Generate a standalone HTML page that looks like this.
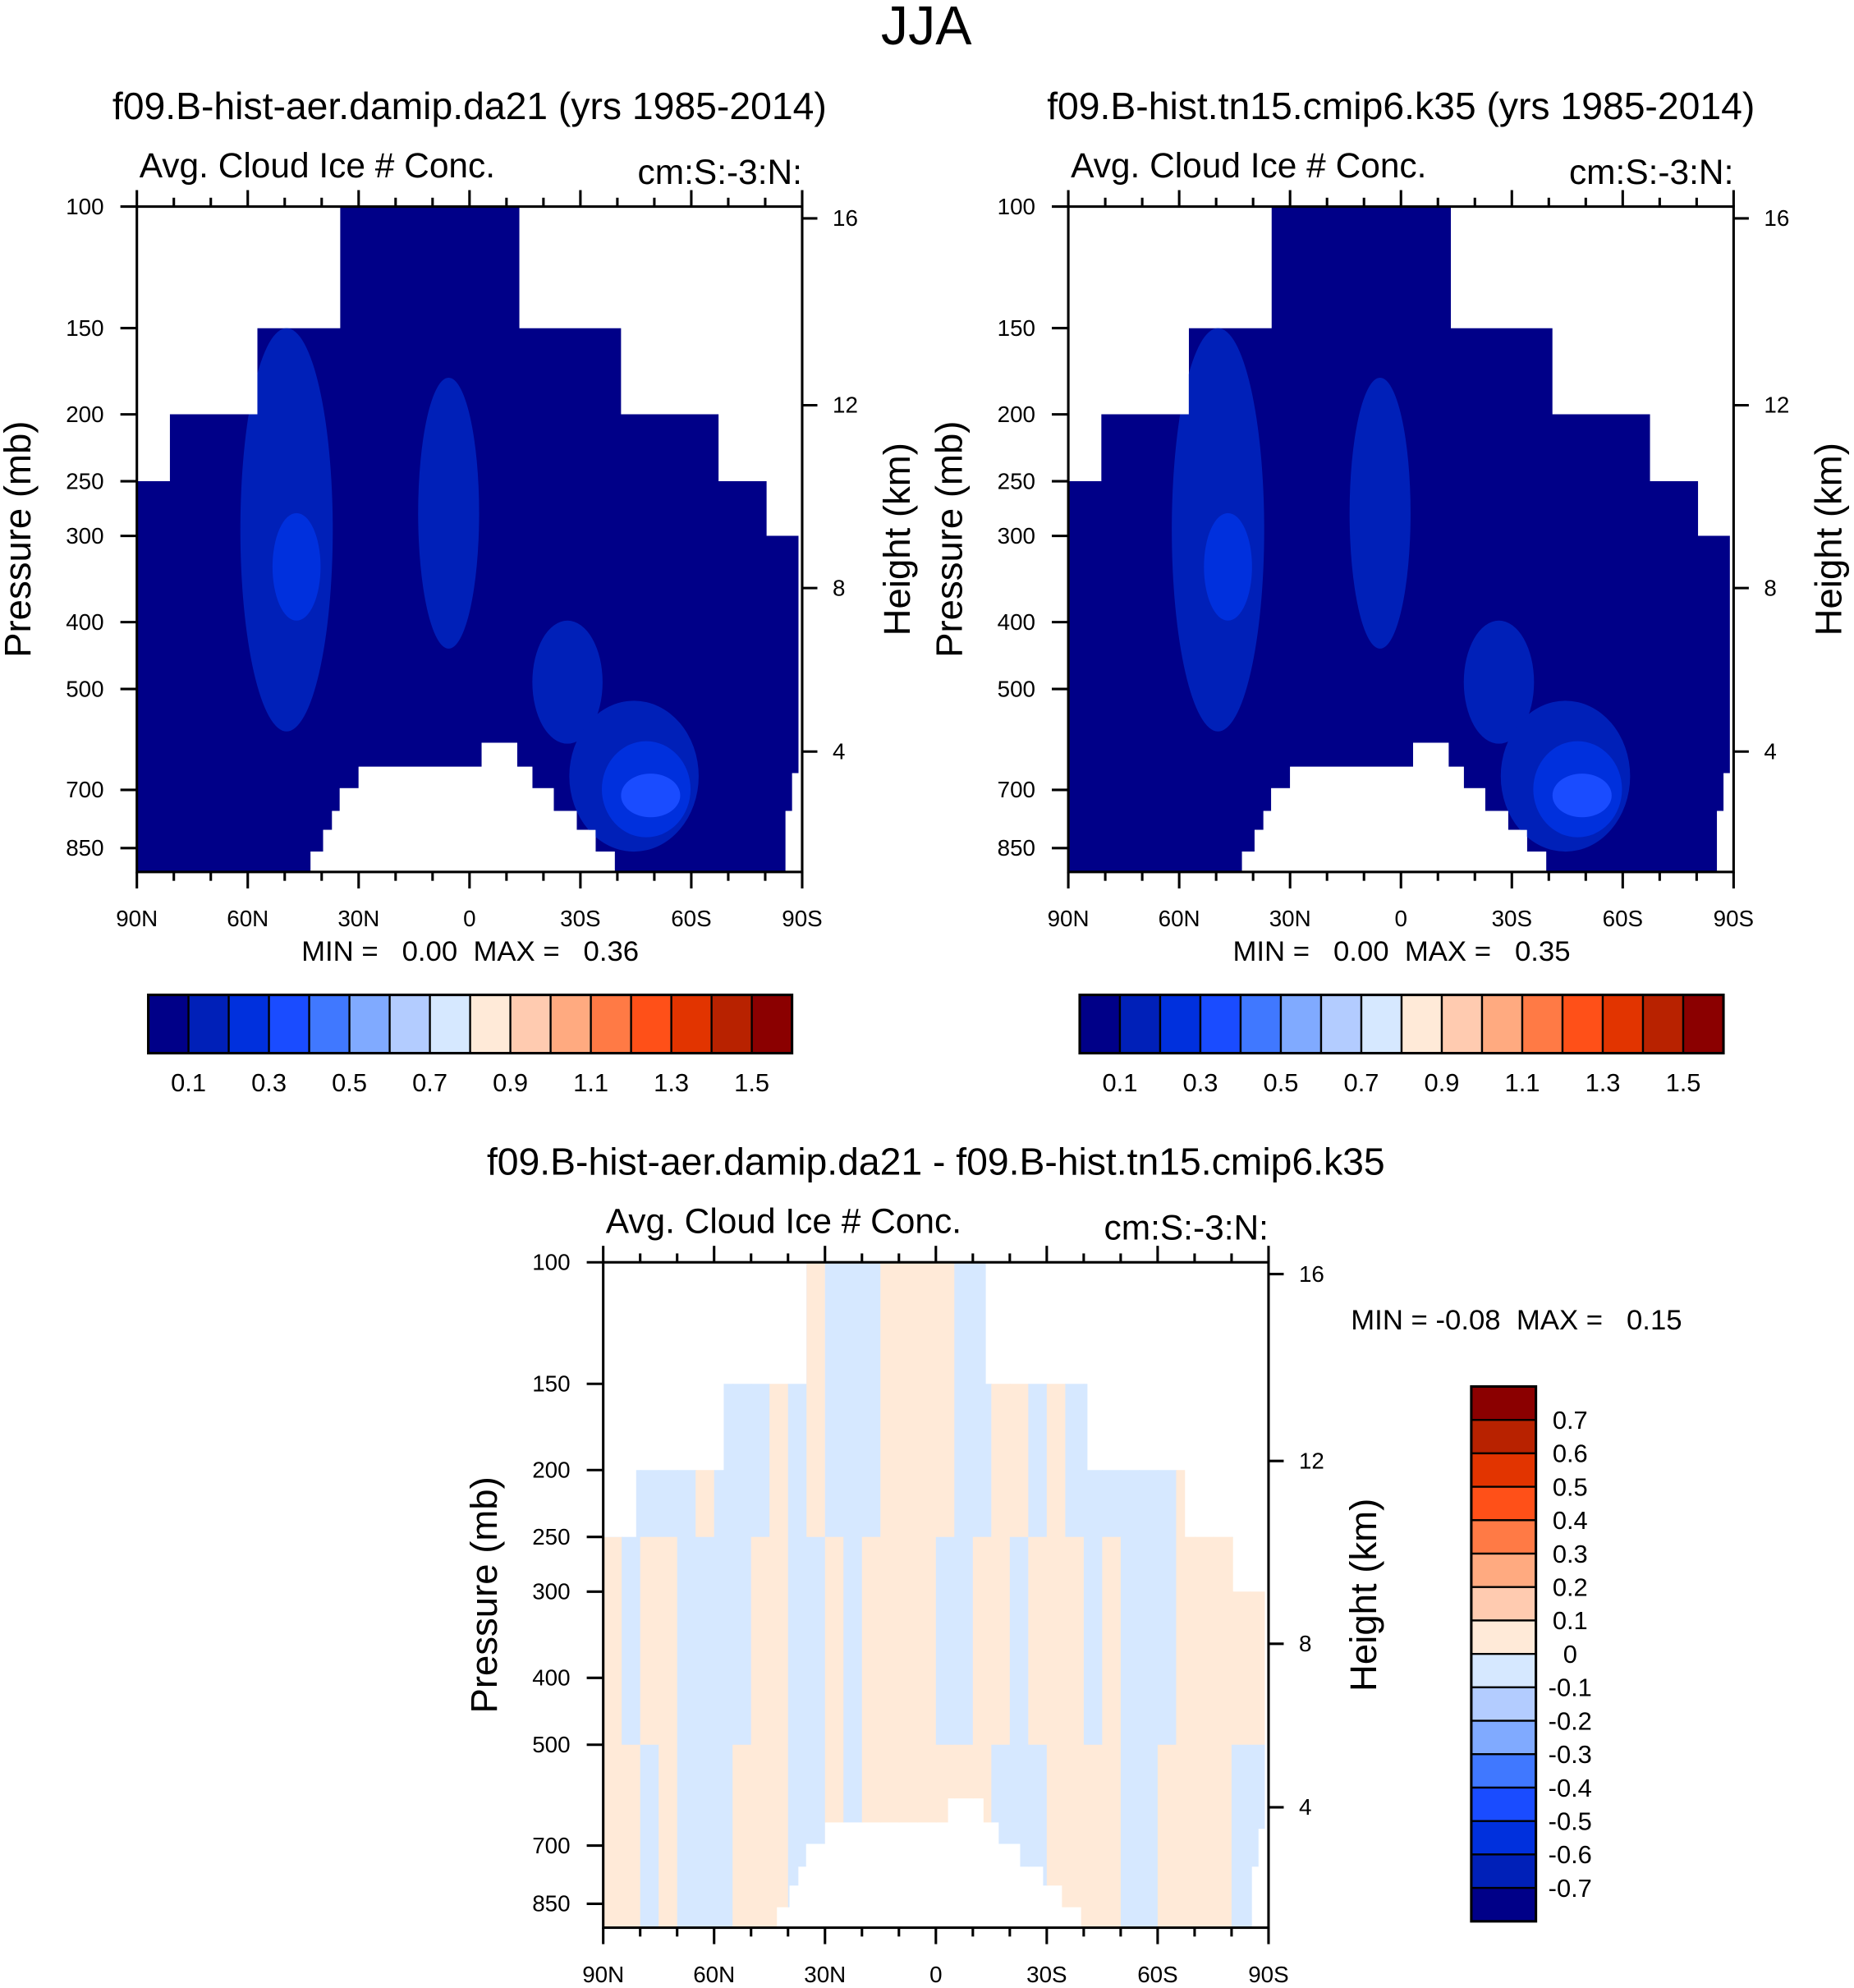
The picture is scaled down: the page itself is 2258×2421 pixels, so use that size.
<!DOCTYPE html>
<html><head><meta charset="utf-8"><style>
html,body{margin:0;padding:0;background:#fff;}
svg{display:block;font-family:"Liberation Sans",sans-serif;}
.pre{white-space:pre;}
</style></head><body>
<svg id="fig" width="2258" height="2421" viewBox="0 0 1463 1568.6" xmlns="http://www.w3.org/2000/svg">
<text x="731" y="35" font-size="43" text-anchor="middle">JJA</text>
<g id="root"></g>
</svg>
<script>
// ---- data ----
const colors = ["#000088","#0020b8","#0030dd","#1a4cff","#4078ff","#80aaff","#b3ccff","#d6e8ff","#ffead8","#ffcbb0","#ffaa80","#ff7a45","#ff5018","#e23400","#b82200","#8b0000"];
const hLabels = ["0.1","0.3","0.5","0.7","0.9","1.1","1.3","1.5"];
const vLabels = ["0.7","0.6","0.5","0.4","0.3","0.2","0.1","0","-0.1","-0.2","-0.3","-0.4","-0.5","-0.6","-0.7"];
const pTicks = [100,150,200,250,300,400,500,700,850];
const hTicks = [16,12,8,4];
const hTickP = [104,194,357,616];
const latTicks = [90,60,30,0,-30,-60,-90];
const latTickLabels = ["90N","60N","30N","0","30S","60S","90S"];
// mask top boundary (lat start, lat end, top pressure)
const topLat0 = [90,81.1,57.4,35.0,-13.5,-41.0,-67.4,-80.4];
const topLat1 = [81.1,57.4,35.0,-13.5,-41.0,-67.4,-80.4,-89.0];
const topP = [250,200,150,100,150,200,250,300];
// mask bottom boundary, east to west
const botLat = [-89.0,-89.0,-87.3,-87.3,-85.5,-85.5,-39.3,-39.3,-34.1,-34.1,-29.0,-29.0,-22.8,-22.8,-17.0,-17.0,-12.9,-12.9,-3.3,-3.3,30.0,30.0,35.1,35.1,37.2,37.2,39.6,39.6,43.0,43.0,90];
const botP = [300,662,662,751,751,920,920,860,860,800,800,751,751,696,696,648,648,598,598,648,648,696,696,751,751,800,800,860,860,920,920];
// blobs: lat range, pressure range, level
const blobLat0 = [62,53.3,13.9,-17,-27,-35.8,-41];
const blobLat1 = [37,40.3,-2.6,-36,-62,-59.8,-57];
const blobP0 = [150,278,177,398,520,595,663];
const blobP1 = [576,398,437,600,860,820,767];
const blobLev = [1,2,1,1,1,2,3];
// diff panel sign grid (1 = positive/peach) per 5deg column, 3 layers
const diffUpper = [0,0,0,0,0,1,0,0,0,1,0,1,0,0,0,1,1,1,1,0,0,1,1,0,1,0,0,0,0,0,0,1,1,1,0,0];
const diffMid   = [1,0,1,1,0,0,0,0,1,1,0,0,1,0,1,1,1,1,0,0,1,1,0,1,1,1,0,1,0,0,0,1,1,1,1,1];
const diffLower = [1,1,0,1,0,0,0,1,1,1,0,0,1,0,1,1,1,1,1,1,1,0,0,0,1,1,1,1,0,0,1,1,1,1,0,0];
const layerP = [100,250,500,920];

const NS="http://www.w3.org/2000/svg";
const root=document.getElementById('root');
function el(tag,attrs,parent,txt){const e=document.createElementNS(NS,tag);for(const k in attrs)e.setAttribute(k,attrs[k]);if(txt!==undefined)e.textContent=txt;(parent||root).appendChild(e);return e;}

function panel(px,py,id,title,minmax,mmPos,kind){
  const W=525,H=525;
  const xs=lat=>px+(90-lat)/180*W;
  const ys=p=>py+Math.log10(p/100)*544.6;
  const g=el('g',{});
  
  
  let pts=[];
  for(let i=0;i<topP.length;i++){pts.push([xs(topLat0[i]),ys(topP[i])]);pts.push([xs(topLat1[i]),ys(topP[i])]);}
  for(let i=0;i<botLat.length;i++)pts.push([xs(botLat[i]),ys(botP[i])]);
  const ptsStr=pts.map(p=>p[0].toFixed(1)+','+p[1].toFixed(1)).join(' ');
  const cp=el('clipPath',{id:'clip-'+id},g);
  el('polygon',{points:ptsStr},cp);
  const fg=el('g',{'clip-path':'url(#clip-'+id+')'},g);
  if(kind==='abs'){
    const bg=el('polygon',{points:ptsStr,fill:colors[0]},fg);
    
    
    for(let i=0;i<blobLev.length;i++){
      const x0=xs(blobLat0[i]),x1=xs(blobLat1[i]),y0=ys(blobP0[i]),y1=ys(blobP1[i]);
      const b=el('ellipse',{cx:(x0+x1)/2,cy:(y0+y1)/2,rx:Math.abs(x1-x0)/2,ry:Math.abs(y1-y0)/2,fill:colors[blobLev[i]]},fg);
      
      
    }
  } else {
    const layers=[diffUpper,diffMid,diffLower];
    for(let l=0;l<3;l++){
      for(let c=0;c<36;c++){
        const lat0=90-c*5,lat1=lat0-5;
        const r=el('rect',{x:xs(lat0),y:ys(layerP[l]),width:xs(lat1)-xs(lat0)+0.6,height:ys(layerP[l+1])-ys(layerP[l])+0.6,fill:layers[l][c]?colors[8]:colors[7]},fg);
        
        
      }
    }
  }
  const fr=el('rect',{x:px,y:py,width:W,height:H,fill:'none',stroke:'#000','stroke-width':2},g);
  
  
  pTicks.forEach(p=>{const y=ys(p);el('line',{x1:px-13,x2:px,y1:y,y2:y,stroke:'#000','stroke-width':2},g);
    const t=el('text',{x:px-26,y:y+6,'font-size':18,'text-anchor':'end'},g,p);
    });
  hTicks.forEach((h,i)=>{const y=ys(hTickP[i]);el('line',{x1:px+W,x2:px+W+12,y1:y,y2:y,stroke:'#000','stroke-width':2},g);
    const t=el('text',{x:px+W+24,y:y+6,'font-size':18},g,h);
    });
  for(let lat=90;lat>=-90;lat-=10){const x=xs(lat);const major=lat%30===0;
    el('line',{x1:x,x2:x,y1:py-(major?13:7),y2:py,stroke:'#000','stroke-width':2},g);
    el('line',{x1:x,x2:x,y1:py+H,y2:py+H+(major?13:7),stroke:'#000','stroke-width':2},g);}
  latTicks.forEach((lat,i)=>{const t=el('text',{x:xs(lat),y:py+H+43,'font-size':18,'text-anchor':'middle'},g,latTickLabels[i]);
    });
  let t=el('text',{x:px+2,y:py-23,'font-size':27.5},g,'Avg. Cloud Ice # Conc.');
  t=el('text',{x:px+W,y:py-18,'font-size':27.5,'text-anchor':'end'},g,'cm:S:-3:N:');
  t=el('text',{x:px+W/2+(id==='diff'?0:0),y:py-69,'font-size':30,'text-anchor':'middle'},g,title);
  t=el('text',{x:0,y:0,'font-size':29.5,'text-anchor':'middle',transform:`translate(${px-84},${py+H/2}) rotate(-90)`},g,'Pressure (mb)');
  t=el('text',{x:0,y:0,'font-size':29.5,'text-anchor':'middle',transform:`translate(${px+W+85},${py+H/2}) rotate(-90)`},g,'Height (km)');
  t=el('text',{x:mmPos[0],y:mmPos[1],'font-size':22.5,'text-anchor':mmPos[2],'class':'pre'},g,minmax);
}
function hbar(x0,y0){
  const w=508/16,h=46;
  const g=el('g',{});
  colors.forEach((c,i)=>{const r=el('rect',{x:x0+i*w,y:y0,width:w,height:h,fill:c,stroke:'#000','stroke-width':1.5},g);});
  el('rect',{x:x0,y:y0,width:508,height:h,fill:'none',stroke:'#000','stroke-width':2},g);
  hLabels.forEach((l,i)=>{const t=el('text',{x:x0+(1+2*i)*w,y:y0+76,'font-size':20,'text-anchor':'middle'},g,l);});
}
function vbar(x0,y0){
  const w=51,h=422/16;
  const g=el('g',{});
  colors.slice().reverse().forEach((c,i)=>{const r=el('rect',{x:x0,y:y0+i*h,width:w,height:h,fill:c,stroke:'#000','stroke-width':1.5},g);});
  el('rect',{x:x0,y:y0,width:w,height:422,fill:'none',stroke:'#000','stroke-width':2},g);
  vLabels.forEach((l,i)=>{const t=el('text',{x:x0+w+27,y:y0+(i+1)*h+7,'font-size':20,'text-anchor':'middle'},g,l);});
}
panel(108,163,'left','f09.B-hist-aer.damip.da21 (yrs 1985-2014)','MIN =   0.00  MAX =   0.36',[371,758,'middle'],'abs');
panel(843,163,'right','f09.B-hist.tn15.cmip6.k35 (yrs 1985-2014)','MIN =   0.00  MAX =   0.35',[1106,758,'middle'],'abs');
panel(476,996,'diff','f09.B-hist-aer.damip.da21 - f09.B-hist.tn15.cmip6.k35','MIN = -0.08  MAX =   0.15',[1066,1049,'start'],'diff');
hbar(117,785);
hbar(852,785);
vbar(1161,1094);
</script>
</body></html>
